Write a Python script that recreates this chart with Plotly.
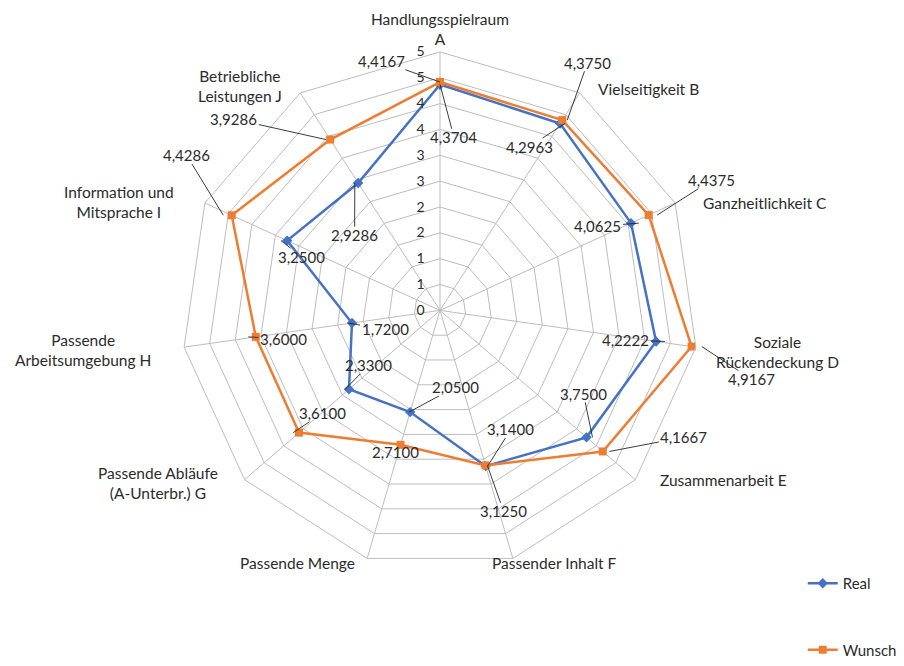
import math
import plotly.graph_objects as go

# ---- data ----
categories = [
    "Handlungsspielraum<br>A",
    "Vielseitigkeit B",
    "Ganzheitlichkeit C",
    "Soziale<br>Rückendeckung D",
    "Zusammenarbeit E",
    "Passender Inhalt F",
    "Passende Menge",
    "Passende Abläufe<br>(A-Unterbr.) G",
    "Passende<br>Arbeitsumgebung H",
    "Information und<br>Mitsprache I",
    "Betriebliche<br>Leistungen J",
]
real = [4.3704, 4.2963, 4.0625, 4.2222, 3.75, 3.14, 2.05, 2.33, 1.72, 3.25, 2.9286]
wunsch = [4.4167, 4.375, 4.4375, 4.9167, 4.1667, 3.125, 2.71, 3.61, 3.6, 4.4286, 3.9286]
radial_tickvals = [0, 0.5, 1, 1.5, 2, 2.5, 3, 3.5, 4, 4.5, 5]
radial_ticktext = ["0", "1", "1", "2", "2", "3", "3", "4", "4", "5", "5"]
series_names = ["Real", "Wunsch"]

# ---- label offsets (pixels, text centre relative to its anchor; y downwards) ----
real_label_offsets = [(14, 49), (-39, 19), (-46, 1), (-45, -1), (-13, -42), (22, -34),
                      (47, -23), (26, -23), (39, 7), (25, 15), (2, 51)]
wunsch_label_offsets = [(-59, -28), (17, -65), (49, -39), (43, 35), (70, -11), (15, 52),
                        (-2, 11), (33, -17), (40, 3), (-31, -65), (-89, -26)]
category_label_offsets = [(0, -31), (59, -10), (74, -3), (64, 6), (75, 5), (37, 11),
                          (-65, 11), (-73, 8), (-84, 4), (-70, -4), (-51, -13)]
# small anisotropic correction for label placement (px per full radius)
LABEL_STRETCH = (7, 7)

# ---- layout geometry ----
W, H = 904, 666
CX, CY, R = 440, 323, 269
RMAX = 5
dom_x = [(CX - R) / W, (CX + R) / W]
dom_y = [(H - CY - R) / H, (H - CY + R) / H]

BLUE = "#4472C4"
ORANGE = "#ED7D31"
GRID = "#bdbdbd"
TXT = "#2b2b2b"
FONT = "Lato"
LABEL_SIZE = 15
CAT_SIZE = 15.5

fig = go.Figure()
theta_closed = categories + [categories[0]]
fig.add_trace(go.Scatterpolar(
    r=real + [real[0]], theta=theta_closed, name=series_names[0], mode="lines+markers",
    line=dict(color=BLUE, width=2.5), marker=dict(symbol="diamond", size=8, color=BLUE),
    legendgroup="a"))
fig.add_trace(go.Scatterpolar(
    r=wunsch + [wunsch[0]], theta=theta_closed, name=series_names[1], mode="lines+markers",
    line=dict(color=ORANGE, width=2.5), marker=dict(symbol="square", size=8, color=ORANGE),
    legendgroup="b"))


def angle(i):
    return 2 * math.pi * i / len(categories)


def point_px(i, v):
    a = angle(i)
    return CX + v / RMAX * R * math.sin(a), CY - v / RMAX * R * math.cos(a)


def stretch(i, v):
    a = angle(i)
    return v / RMAX * LABEL_STRETCH[0] * math.sin(a), v / RMAX * LABEL_STRETCH[1] * math.cos(a)


annotations = []
shapes = []

# category labels at the outer vertices
for i, name in enumerate(categories):
    vx, vy = point_px(i, RMAX)
    ox, oy = category_label_offsets[i]
    sx, sy = stretch(i, RMAX)
    annotations.append(dict(
        x=(vx + ox + sx) / W, y=1 - (vy + oy + sy) / H, xref="paper", yref="paper",
        xanchor="center", yanchor="middle", align="center",
        text=name, showarrow=False,
        font=dict(family=FONT, size=CAT_SIZE, color=TXT)))

# data labels with leader lines
HW, HH = 25, 9  # approximate half size of a data label box (px)
for vals, offs in ((real, real_label_offsets), (wunsch, wunsch_label_offsets)):
    for i, v in enumerate(vals):
        px, py = point_px(i, v)
        ox, oy = offs[i]
        sx, sy = stretch(i, v)
        cx, cy = px + ox + sx, py + oy + sy
        annotations.append(dict(
            x=cx / W, y=1 - cy / H, xref="paper", yref="paper",
            xanchor="center", yanchor="middle",
            text=f"{v:.4f}".replace(".", ","), showarrow=False,
            font=dict(family=FONT, size=LABEL_SIZE, color=TXT)))
        dx, dy = px - cx, py - cy
        tx = HW / abs(dx) if dx else float("inf")
        ty = HH / abs(dy) if dy else float("inf")
        t = min(tx, ty)
        if t < 1:
            lx, ly = cx + t * dx, cy + t * dy
            if math.hypot(px - lx, py - ly) > 6:
                shapes.append(dict(
                    type="line", xref="paper", yref="paper",
                    x0=lx / W, y0=1 - ly / H, x1=px / W, y1=1 - py / H,
                    line=dict(color="#262626", width=0.9)))

fig.update_layout(
    width=W, height=H,
    margin=dict(l=0, r=0, t=0, b=0),
    paper_bgcolor="white", plot_bgcolor="white",
    font=dict(family=FONT, size=CAT_SIZE, color=TXT),
    polar=dict(
        domain=dict(x=dom_x, y=dom_y),
        bgcolor="white",
        gridshape="linear",
        angularaxis=dict(
            rotation=90, direction="clockwise", type="category",
            categoryarray=categories, showticklabels=False,
            showline=True, linecolor=GRID, linewidth=1,
            gridcolor=GRID, gridwidth=1, ticks=""),
        radialaxis=dict(
            range=[0, RMAX], tickvals=radial_tickvals, ticktext=radial_ticktext,
            showline=False, gridcolor=GRID, gridwidth=1,
            ticks="outside", ticklen=10, tickcolor="rgba(0,0,0,0)",
            side="counterclockwise", angle=90, tickangle=90,
            tickfont=dict(family=FONT, size=14, color=TXT)),
    ),
    showlegend=True,
    legend=dict(x=0.888, y=0.114, xanchor="left", yanchor="top",
                font=dict(family=FONT, size=15, color=TXT),
                tracegroupgap=44, bgcolor="rgba(0,0,0,0)"),
    annotations=annotations,
    shapes=shapes,
)

fig.write_html("out.html")
